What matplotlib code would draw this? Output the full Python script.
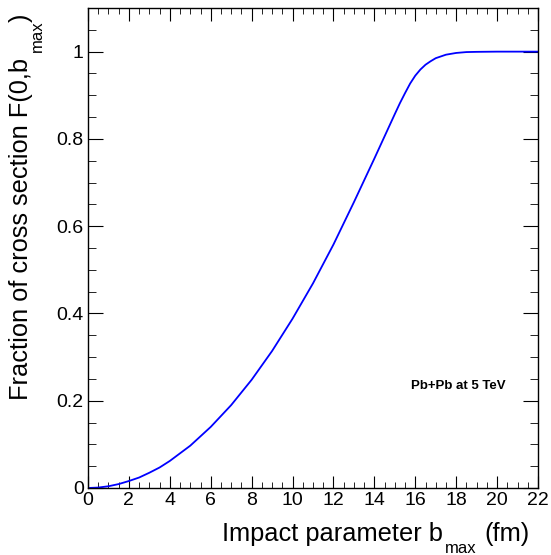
import matplotlib
matplotlib.use("Agg")
import matplotlib.pyplot as plt
from matplotlib.ticker import MultipleLocator, FuncFormatter

# impact parameter b_max (fm) and fraction of cross section F(0, b_max)
b_max = [0, 0.5, 1, 1.5, 2, 2.5, 3, 3.5, 4, 5, 6, 7, 8, 9, 10, 11, 12, 13, 14,
         14.5, 15, 15.25, 15.5, 15.75, 16, 16.25, 16.5, 16.75, 17, 17.5, 18,
         18.5, 19, 20, 21, 22]
frac = [0, 0.001, 0.004, 0.009, 0.016, 0.024, 0.035, 0.047, 0.062, 0.097,
        0.140, 0.190, 0.248, 0.314, 0.388, 0.469, 0.558, 0.655, 0.755,
        0.806, 0.857, 0.882, 0.905, 0.927, 0.945, 0.959, 0.970, 0.978,
        0.985, 0.993, 0.997, 0.999, 0.9995, 1.0, 1.0, 1.0]

label_text = "Pb+Pb at 5 TeV"

W, H = 551, 555

plt.rcParams["font.family"] = ["Liberation Sans", "DejaVu Sans"]

fig = plt.figure(figsize=(W / 100, H / 100), dpi=100)
ax = fig.add_axes([88 / W, 67 / H, 450 / W, 480 / H])

ax.plot(b_max, frac, color="#0000ff", lw=1.3)

ax.set_xlim(0, 22)
ax.set_ylim(0, 1.1)
ax.xaxis.set_major_locator(MultipleLocator(2))
ax.xaxis.set_minor_locator(MultipleLocator(0.5))
ax.yaxis.set_major_locator(MultipleLocator(0.2))
ax.yaxis.set_minor_locator(MultipleLocator(0.05))
ax.yaxis.set_major_formatter(FuncFormatter(lambda v, p: f"{v:g}"))

ax.tick_params(which="both", direction="in", top=True, right=True,
               labelsize=14, colors="black")
ax.tick_params(axis="x", which="major", length=9, pad=3)
ax.tick_params(axis="x", which="minor", length=4.5)
ax.tick_params(axis="y", which="major", length=11, pad=3)
ax.tick_params(axis="y", which="minor", length=5.5)
for sp in ax.spines.values():
    sp.set_linewidth(1.0)


def px(x, y):
    # pixel position (from top-left) -> figure fraction
    return x / W, 1 - y / H


title_fs = 18.3
sub_fs = 12

# x axis title, ROOT style with a deep subscript
fig.text(*px(443, 541), "Impact parameter b", fontsize=title_fs, ha="right", va="baseline")
fig.text(*px(445, 553), "max", fontsize=sub_fs, ha="left", va="baseline")
fig.text(*px(530, 541), "(fm)", fontsize=title_fs, ha="right", va="baseline")

# y axis title, rotated
rot = dict(rotation=90, rotation_mode="anchor", ha="left", va="baseline")
fig.text(*px(28, 400), "Fraction of cross section F(0,b", fontsize=title_fs, **rot)
fig.text(*px(42, 52), "max", fontsize=sub_fs, **rot)
fig.text(*px(28, 22), ")", fontsize=title_fs, **rot)

ax.text(0.929, 0.2125, label_text, transform=ax.transAxes, ha="right",
        va="center", fontsize=9.5, fontweight="bold")

fig.savefig("out.png", dpi=100)
